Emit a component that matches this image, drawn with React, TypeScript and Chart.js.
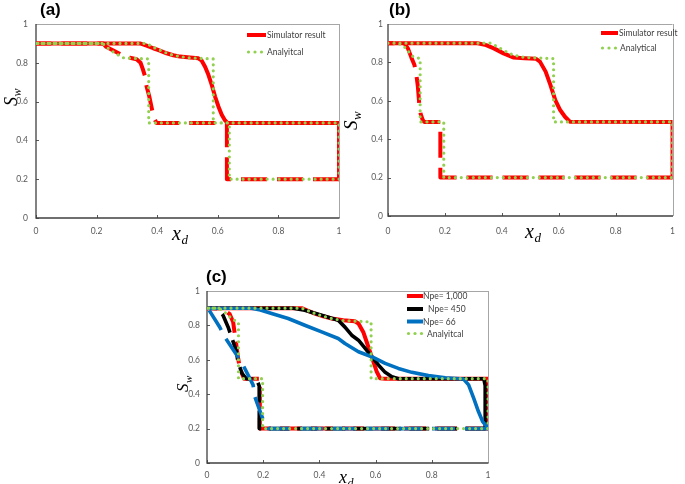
import React, { useEffect, useRef } from 'react';
import { Chart, registerables } from 'chart.js';
Chart.register(...registerables);

const PAGE_W = 685;
const PAGE_H = 484;

const xTickValues = [0, 0.2, 0.4, 0.6, 0.8, 1];
const yTickValues = [0, 0.2, 0.4, 0.6, 0.8, 1];

// ---------- Panel (a) ----------
const aSimX = [0, 0.343, 0.365, 0.387, 0.409, 0.431, 0.453, 0.475, 0.508, 0.536, 0.547, 0.558, 0.569, 0.58, 0.591, 0.602, 0.613, 0.624, 0.632, 1, 1, 0.63, 0.63, 0.398, 0.389, 0.382, 0.374, 0.365, 0.36, 0.352, 0.345, 0.332, 0.31, 0.294, 0.26, 0.231, 0.222, 0];
const aSimY = [0.9, 0.9, 0.889, 0.875, 0.863, 0.849, 0.839, 0.832, 0.827, 0.823, 0.811, 0.78, 0.738, 0.686, 0.626, 0.575, 0.532, 0.503, 0.49, 0.49, 0.2, 0.2, 0.49, 0.49, 0.515, 0.566, 0.626, 0.678, 0.73, 0.77, 0.8, 0.818, 0.826, 0.832, 0.86, 0.883, 0.9, 0.9];
const aAnaX = [0, 0.365, 0.387, 0.409, 0.431, 0.453, 0.475, 0.51, 0.585, 0.585, 1, 1, 0.638, 0.638, 0.372, 0.372, 0.29, 0.26, 0.235, 0.22, 0];
const aAnaY = [0.9, 0.9, 0.88, 0.865, 0.85, 0.839, 0.832, 0.825, 0.82, 0.49, 0.49, 0.2, 0.2, 0.49, 0.49, 0.82, 0.825, 0.85, 0.878, 0.9, 0.9];
const aLabels = ['Simulator result', 'Analyitcal'];

// ---------- Panel (b) ----------
const bSimX = [0, 0.315, 0.345, 0.372, 0.406, 0.44, 0.48, 0.52, 0.534, 0.554, 0.571, 0.588, 0.605, 0.622, 0.639, 1, 1, 0.184, 0.184, 0.127, 0.122, 0.115, 0.11, 0.105, 0.099, 0.093, 0.082, 0.07, 0.059, 0.053, 0];
const bSimY = [0.9, 0.9, 0.89, 0.873, 0.847, 0.826, 0.822, 0.819, 0.804, 0.752, 0.682, 0.604, 0.552, 0.517, 0.491, 0.49, 0.2, 0.2, 0.49, 0.49, 0.5, 0.53, 0.58, 0.674, 0.743, 0.786, 0.826, 0.873, 0.896, 0.9, 0.9];
const bAnaX = [0, 0.36, 0.38, 0.41, 0.44, 0.48, 0.582, 0.582, 1, 1, 0.196, 0.196, 0.113, 0.113, 0.088, 0.07, 0.055, 0.036, 0];
const bAnaY = [0.9, 0.9, 0.885, 0.86, 0.838, 0.826, 0.82, 0.49, 0.49, 0.2, 0.2, 0.49, 0.49, 0.82, 0.83, 0.86, 0.885, 0.9, 0.9];
const bLabels = ['Simulator result', 'Analytical'];

// ---------- Panel (c) ----------
const cNpe1000X = [0, 0.337, 0.36, 0.384, 0.414, 0.444, 0.485, 0.526, 0.539, 0.556, 0.568, 0.58, 0.592, 0.604, 0.616, 0.634, 1, 1, 0.188, 0.188, 0.132, 0.117, 0.11, 0.104, 0.098, 0.093, 0.081, 0.063, 0.045, 0];
const cNpe1000Y = [0.9, 0.9, 0.885, 0.869, 0.853, 0.84, 0.83, 0.824, 0.811, 0.762, 0.705, 0.647, 0.589, 0.531, 0.492, 0.49, 0.49, 0.2, 0.2, 0.49, 0.49, 0.55, 0.617, 0.69, 0.76, 0.82, 0.865, 0.887, 0.9, 0.9];
const cNpe450X = [0, 0.307, 0.348, 0.408, 0.467, 0.491, 0.515, 0.539, 0.563, 0.586, 0.61, 0.634, 0.658, 0.681, 0.985, 0.99, 0.99, 0.186, 0.186, 0.176, 0.14, 0.125, 0.11, 0.105, 0.09, 0.075, 0.057, 0.039, 0];
const cNpe450Y = [0.9, 0.9, 0.888, 0.859, 0.83, 0.79, 0.743, 0.714, 0.666, 0.618, 0.57, 0.527, 0.502, 0.49, 0.49, 0.45, 0.2, 0.2, 0.447, 0.49, 0.49, 0.52, 0.589, 0.647, 0.72, 0.791, 0.859, 0.898, 0.9];
const cNpe66X = [0, 0.158, 0.19, 0.23, 0.289, 0.348, 0.408, 0.467, 0.491, 0.539, 0.586, 0.634, 0.681, 0.729, 0.788, 0.848, 0.913, 0.931, 0.949, 0.966, 0.981, 0.996, 1, 0.218, 0.2, 0.17, 0.164, 0.128, 0.11, 0.063, 0.045, 0.004, 0];
const cNpe66Y = [0.9, 0.9, 0.89, 0.869, 0.84, 0.801, 0.762, 0.724, 0.695, 0.647, 0.618, 0.579, 0.55, 0.527, 0.508, 0.496, 0.488, 0.454, 0.377, 0.299, 0.241, 0.212, 0.2, 0.2, 0.251, 0.386, 0.454, 0.57, 0.617, 0.733, 0.791, 0.898, 0.9];
const cAnaX = [0, 0.337, 0.36, 0.384, 0.414, 0.444, 0.485, 0.584, 0.584, 1, 1, 0.198, 0.198, 0.112, 0.112, 0.09, 0.075, 0.057, 0.04, 0];
const cAnaY = [0.9, 0.9, 0.885, 0.869, 0.853, 0.84, 0.828, 0.82, 0.49, 0.49, 0.2, 0.2, 0.49, 0.49, 0.82, 0.835, 0.86, 0.885, 0.9, 0.9];
const cLabels = ['Npe= 1,000', 'Npe= 450', 'Npe= 66', 'Analyitcal'];

const RED = '#FF0000';
const GREEN = '#92D050';
const BLACK = '#000000';
const BLUE = '#0070C0';

type Series = {
  xs: number[];
  ys: number[];
  label: string;
  color: string;
  kind: 'line' | 'dots';
  width: number;
  dash: number[];
  dashFrom?: number; // segments starting at this point index onward are dashed
};

type Panel = {
  tag: string;
  tagX: number;
  tagY: number;
  area: { l: number; t: number; r: number; b: number };
  yPad: number;
  xPad: number;
  yTitle: { x: number; y: number; size: number };
  xTitle: { x: number; y: number; size: number };
  legend: { x0: number; x1: number; ys: number[]; textX: number[] };
  series: Series[];
};

const DOTS = [0, 6];

const panels: Panel[] = [
  {
    tag: '(a)', tagX: 40, tagY: 14.5,
    area: { l: 36, t: 24, r: 339, b: 218 },
    yPad: 8, xPad: 8,
    yTitle: { x: 17, y: 106, size: 18 },
    xTitle: { x: 172, y: 240, size: 20 },
    legend: { x0: 247, x1: 266, ys: [35, 52], textX: [267, 267] },
    series: [
      { xs: aSimX, ys: aSimY, label: aLabels[0], color: RED, kind: 'line', width: 4, dash: [26, 10], dashFrom: 20 },
      { xs: aAnaX, ys: aAnaY, label: aLabels[1], color: GREEN, kind: 'dots', width: 3.2, dash: DOTS },
    ],
  },
  {
    tag: '(b)', tagX: 389, tagY: 14.5,
    area: { l: 388, t: 24, r: 681, b: 216 },
    yPad: 5, xPad: 10,
    yTitle: { x: 357, y: 130, size: 19 },
    xTitle: { x: 525, y: 238, size: 20 },
    legend: { x0: 601, x1: 618, ys: [33, 48], textX: [619, 620] },
    series: [
      { xs: bSimX, ys: bSimY, label: bLabels[0], color: RED, kind: 'line', width: 4, dash: [26, 10], dashFrom: 16 },
      { xs: bAnaX, ys: bAnaY, label: bLabels[1], color: GREEN, kind: 'dots', width: 3.2, dash: DOTS },
    ],
  },
  {
    tag: '(c)', tagX: 206, tagY: 281.5,
    area: { l: 207, t: 291, r: 488, b: 463 },
    yPad: 7, xPad: 7,
    yTitle: { x: 188, y: 392, size: 17 },
    xTitle: { x: 339, y: 483, size: 18 },
    legend: { x0: 407, x1: 423, ys: [296, 309, 321.5, 333.5], textX: [423, 428, 423, 427] },
    series: [
      { xs: cNpe1000X, ys: cNpe1000Y, label: cLabels[0], color: RED, kind: 'line', width: 4, dash: [22, 9], dashFrom: 17 },
      { xs: cNpe450X, ys: cNpe450Y, label: cLabels[1], color: BLACK, kind: 'line', width: 3.6, dash: [20, 8], dashFrom: 16 },
      { xs: cNpe66X, ys: cNpe66Y, label: cLabels[2], color: BLUE, kind: 'line', width: 3.6, dash: [23, 10], dashFrom: 22 },
      { xs: cAnaX, ys: cAnaY, label: cLabels[3], color: GREEN, kind: 'dots', width: 3.2, dash: DOTS },
    ],
  },
];

function drawSubText(
  ctx: CanvasRenderingContext2D,
  x: number,
  y: number,
  main: string,
  sub: string,
  size: number,
  rotate: boolean
) {
  ctx.save();
  ctx.translate(x, y);
  if (rotate) ctx.rotate(-Math.PI / 2);
  ctx.fillStyle = '#000';
  ctx.textAlign = 'left';
  ctx.textBaseline = 'alphabetic';
  ctx.font = `italic ${size}px "Liberation Serif", serif`;
  ctx.fillText(main, 0, 0);
  const w = ctx.measureText(main).width;
  ctx.font = `italic ${Math.round(size * 0.66)}px "Liberation Serif", serif`;
  ctx.fillText(sub, w + 0.5, size * 0.22);
  ctx.restore();
}

function makeDecor(panel: Panel) {
  return {
    id: 'panelDecor',
    beforeDatasetsDraw(chart: any) {
      const { ctx, chartArea: ca, scales } = chart;
      ctx.save();
      ctx.strokeStyle = '#595959';
      ctx.lineWidth = 1;
      ctx.beginPath();
      for (const v of xTickValues) {
        const x = Math.round(scales.x.getPixelForValue(v)) + 0.5;
        ctx.moveTo(x, ca.bottom);
        ctx.lineTo(x, ca.bottom - 3);
      }
      for (const v of yTickValues) {
        const y = Math.round(scales.y.getPixelForValue(v)) + 0.5;
        ctx.moveTo(ca.left, y);
        ctx.lineTo(ca.left + 3, y);
      }
      ctx.stroke();
      ctx.strokeStyle = '#a6a6a6';
      ctx.lineWidth = 1;
      ctx.beginPath();
      ctx.moveTo(ca.left, Math.round(ca.top) + 0.5);
      ctx.lineTo(ca.right, Math.round(ca.top) + 0.5);
      ctx.moveTo(Math.round(ca.right) + 0.5, ca.top);
      ctx.lineTo(Math.round(ca.right) + 0.5, ca.bottom);
      ctx.stroke();
      ctx.strokeStyle = '#404040';
      ctx.lineWidth = 1.3;
      ctx.beginPath();
      ctx.moveTo(ca.left, ca.top);
      ctx.lineTo(ca.left, ca.bottom);
      ctx.lineTo(ca.right + 0.5, ca.bottom);
      ctx.stroke();
      ctx.restore();
    },
    afterDraw(chart: any) {
      const { ctx } = chart;
      ctx.save();
      ctx.fillStyle = '#000';
      ctx.font = 'bold 17px "Liberation Sans", Arial, sans-serif';
      ctx.textAlign = 'left';
      ctx.textBaseline = 'alphabetic';
      ctx.fillText(panel.tag, panel.tagX, panel.tagY);
      ctx.restore();
      drawSubText(ctx, panel.yTitle.x, panel.yTitle.y, 'S', 'w', panel.yTitle.size, true);
      drawSubText(ctx, panel.xTitle.x, panel.xTitle.y, 'x', 'd', panel.xTitle.size, false);
      ctx.save();
      const lg = panel.legend;
      panel.series.forEach((s, i) => {
        const y = lg.ys[i];
        if (s.kind === 'line') {
          ctx.strokeStyle = s.color;
          ctx.lineWidth = 4;
          ctx.lineCap = 'butt';
          ctx.beginPath();
          ctx.moveTo(lg.x0, y);
          ctx.lineTo(lg.x1, y);
          ctx.stroke();
        } else {
          ctx.fillStyle = s.color;
          for (const dx of [1.5, 8, 14.5]) {
            ctx.beginPath();
            ctx.arc(lg.x0 + dx, y, 1.6, 0, Math.PI * 2);
            ctx.fill();
          }
        }
        ctx.fillStyle = '#404040';
        ctx.font = '8.5px Lato, "Noto Sans", sans-serif';
        ctx.textAlign = 'left';
        ctx.textBaseline = 'middle';
        ctx.fillText(s.label, lg.textX[i], y + 0.5);
      });
      ctx.restore();
    },
  };
}

function buildConfig(panel: Panel): any {
  const XH = 20;
  const n = panel.series.length;
  const datasets = panel.series.map((s, i) => {
    const isDots = s.kind === 'dots';
    const ds: any = {
      label: s.label,
      data: s.xs.map((x, k) => ({ x, y: s.ys[k] })),
      showLine: true,
      fill: false,
      borderColor: s.color,
      backgroundColor: s.color,
      borderWidth: s.width,
      borderDash: isDots ? s.dash : [],
      borderCapStyle: isDots ? 'round' : 'butt',
      borderJoinStyle: 'round',
      pointRadius: 0,
      pointHoverRadius: 0,
      tension: 0,
      order: n - 1 - i,
    };
    if (!isDots && s.dashFrom !== undefined) {
      const from = s.dashFrom;
      const dash = s.dash;
      ds.segment = {
        borderDash: (c: any) => (c.p0DataIndex >= from ? dash : undefined),
      };
    }
    return ds;
  });
  const tickFont = { family: 'Lato, "Noto Sans", sans-serif', size: 8.5 };
  const fmt = (v: any) => String(Math.round(Number(v) * 10) / 10);
  return {
    type: 'scatter',
    data: { datasets },
    options: {
      animation: false,
      responsive: false,
      devicePixelRatio: 1,
      events: [],
      layout: {
        padding: {
          left: 0,
          top: panel.area.t,
          right: PAGE_W - panel.area.r,
          bottom: PAGE_H - panel.area.b - XH,
        },
      },
      plugins: {
        legend: { display: false },
        tooltip: { enabled: false },
        title: { display: false },
      },
      scales: {
        x: {
          type: 'linear',
          min: 0,
          max: 1,
          grid: { display: false, drawTicks: false },
          border: { display: false },
          ticks: {
            stepSize: 0.2,
            color: '#595959',
            font: tickFont,
            padding: panel.xPad,
            maxRotation: 0,
            callback: fmt,
          },
          afterFit: (scale: any) => {
            scale.height = XH;
          },
        },
        y: {
          type: 'linear',
          min: 0,
          max: 1,
          grid: { display: false, drawTicks: false },
          border: { display: false },
          ticks: {
            stepSize: 0.2,
            color: '#595959',
            font: tickFont,
            padding: panel.yPad,
            callback: fmt,
          },
          afterFit: (scale: any) => {
            scale.width = panel.area.l;
          },
        },
      },
    },
    plugins: [makeDecor(panel)],
  };
}

function PanelChart({ panel }: { panel: Panel }) {
  const ref = useRef<HTMLCanvasElement | null>(null);
  useEffect(() => {
    if (!ref.current) return;
    const chart = new Chart(ref.current, buildConfig(panel));
    return () => chart.destroy();
  }, [panel]);
  return (
    <canvas
      ref={ref}
      width={PAGE_W}
      height={PAGE_H}
      style={{ position: 'absolute', left: 0, top: 0, width: PAGE_W, height: PAGE_H }}
    />
  );
}

export default function App() {
  return (
    <div
      style={{
        position: 'absolute',
        left: 0,
        top: 0,
        width: PAGE_W,
        height: PAGE_H,
        background: '#ffffff',
        overflow: 'hidden',
      }}
    >
      {panels.map((p) => (
        <PanelChart key={p.tag} panel={p} />
      ))}
    </div>
  );
}
